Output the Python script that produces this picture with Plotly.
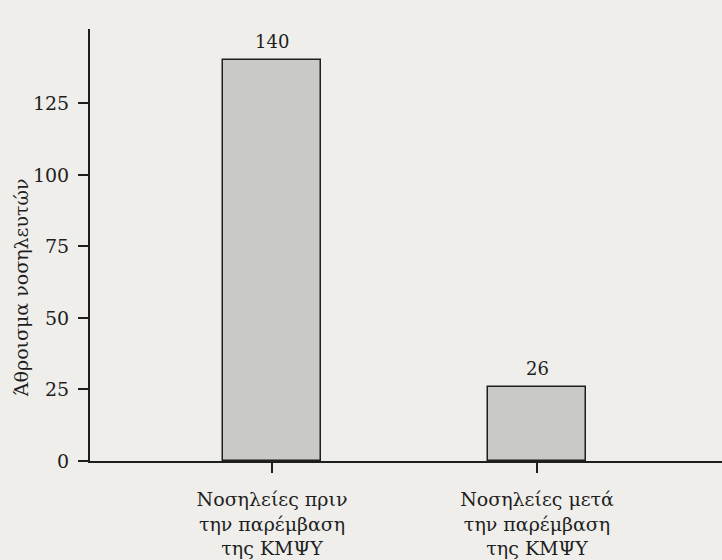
import plotly.graph_objects as go

categories = ["Νοσηλείες πριν<br>την παρέμβαση<br>της ΚΜΨΥ", "Νοσηλείες μετά<br>την παρέμβαση<br>της ΚΜΨΥ"]
values = [140, 26]
y_ticks = [0, 25, 50, 75, 100, 125]
y_title = "Άθροισμα νοσηλευτών"

FONT = "DejaVu Serif, Liberation Serif, serif"
INK = "#1e1e1e"
BG = "#efeeeb"

xpos = list(range(len(categories)))

fig = go.Figure()
fig.add_trace(go.Bar(
    x=xpos, y=values, width=0.372,
    marker=dict(color="#c9c9c7", line=dict(color=INK, width=1.5)),
    hoverinfo="skip",
))

for xv, v in zip(xpos, values):
    fig.add_annotation(x=xv, y=v, text=str(v), showarrow=False,
                       yanchor="bottom", yshift=6,
                       font=dict(family=FONT, size=18, color=INK))

fig.add_annotation(xref="paper", yref="paper", x=0, y=0.40, xshift=-69,
                   text=y_title, textangle=-90, showarrow=False,
                   xanchor="center", yanchor="middle",
                   font=dict(family=FONT, size=19, color=INK))

fig.update_layout(
    width=722, height=560,
    margin=dict(l=90, r=0, t=29, b=99, autoexpand=False),
    paper_bgcolor=BG, plot_bgcolor=BG,
    showlegend=False,
    bargap=0,
)
fig.update_xaxes(
    range=[-0.687, 1.698],
    tickvals=xpos, ticktext=categories,
    ticks="outside", ticklen=10, tickwidth=1.5, tickcolor=INK,
    showline=True, linecolor=INK, linewidth=2,
    showgrid=False, zeroline=False, automargin=False,
    ticklabelstandoff=10,
    tickfont=dict(family=FONT, size=19, color=INK),
)
fig.update_yaxes(
    range=[0, 151],
    tickvals=y_ticks,
    ticks="outside", ticklen=10, tickwidth=1.5, tickcolor=INK,
    showline=True, linecolor=INK, linewidth=2,
    showgrid=False, zeroline=False, automargin=False,
    ticklabelstandoff=5,
    tickfont=dict(family=FONT, size=19, color=INK),
)

fig.write_html(
    "out.html",
    config={"displayModeBar": False},
    post_script="document.body.style.margin='0';document.body.style.background='#efeeeb';",
)
